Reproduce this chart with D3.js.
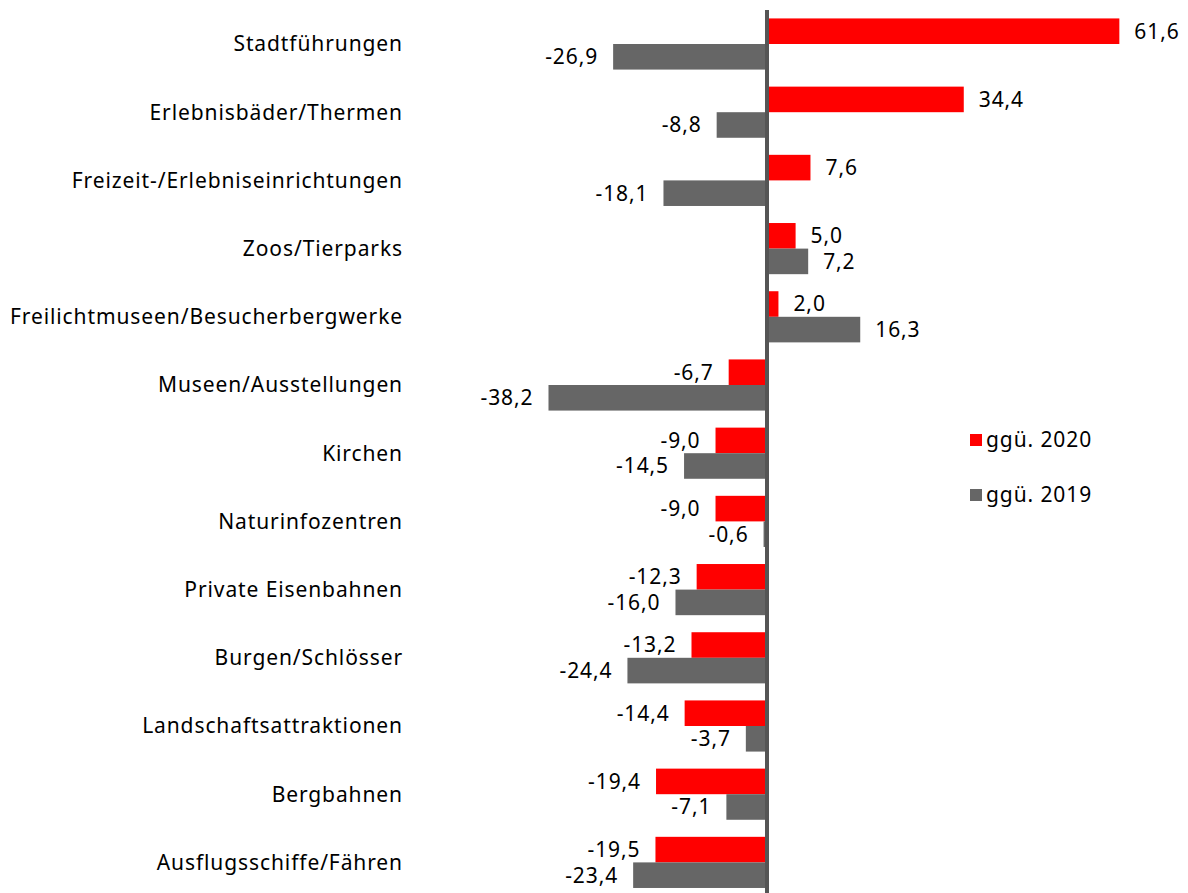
<!DOCTYPE html>
<html><head><meta charset="utf-8">
<script src="https://cdn.jsdelivr.net/npm/d3@7"></script>
<style>body{margin:0;background:#fff}svg{display:block}text{font-family:"Noto Sans",sans-serif;fill:#000}</style>
</head><body>
<svg id="c" width="1188" height="893"></svg>
<script>
const categories = ["Stadtführungen","Erlebnisbäder/Thermen","Freizeit-/Erlebniseinrichtungen","Zoos/Tierparks","Freilichtmuseen/Besucherbergwerke","Museen/Ausstellungen","Kirchen","Naturinfozentren","Private Eisenbahnen","Burgen/Schlösser","Landschaftsattraktionen","Bergbahnen","Ausflugsschiffe/Fähren"];
const vs2020 = [61.6,34.4,7.6,5.0,2.0,-6.7,-9.0,-9.0,-12.3,-13.2,-14.4,-19.4,-19.5];
const vs2019 = [-26.9,-8.8,-18.1,7.2,16.3,-38.2,-14.5,-0.6,-16.0,-24.4,-3.7,-7.1,-23.4];
const seriesNames = ["ggü. 2020","ggü. 2019"];
const colors = ["#ff0000","#666666"];

const svg = d3.select("#c");
const fmt = d3.formatLocale({decimal:",",thousands:".",grouping:[3],currency:["","€"],minus:"-"}).format(".1f");
const x = d3.scaleLinear().domain([-40,65]).range([538.2,1138.8]);
const y = d3.scaleBand().domain(categories).range([9.9,896.5]).paddingInner(0.25).paddingOuter(0.125);
const sub = d3.scaleBand().domain([0,1]).range([0,y.bandwidth()]);
const FS = "21px", LS = "0.9px";

const series = [vs2020, vs2019];
series.forEach((vals,si)=>{
  const g = svg.append("g");
  g.selectAll("rect").data(vals).join("rect")
    .attr("x",d=>x(Math.min(0,d)))
    .attr("width",d=>Math.abs(x(d)-x(0)))
    .attr("y",(d,i)=>y(categories[i])+sub(si))
    .attr("height",sub.bandwidth())
    .attr("fill",colors[si]);
  g.selectAll("text").data(vals).join("text")
    .attr("x",d=>d>=0? x(d)+15 : x(d)-15)
    .attr("y",(d,i)=>y(categories[i])+sub(si)+sub.bandwidth()/2)
    .attr("dy","0.35em")
    .attr("text-anchor",d=>d>=0?"start":"end")
    .style("font-size",FS).style("letter-spacing",LS)
    .text(d=>fmt(d));
});

// category labels
svg.append("g").selectAll("text").data(categories).join("text")
  .attr("x",403).attr("y",d=>y(d)+y.bandwidth()/2).attr("dy","0.35em")
  .attr("text-anchor","end").style("font-size",FS).style("letter-spacing",LS).text(d=>d);

// zero axis
svg.append("line").attr("x1",x(0)).attr("x2",x(0)).attr("y1",10).attr("y2",893)
  .attr("stroke","#555555").attr("stroke-width",4);

// legend
const leg = svg.append("g");
seriesNames.forEach((n,i)=>{
  const cy = 440 + i*55;
  leg.append("rect").attr("x",970).attr("y",cy-6).attr("width",12).attr("height",12).attr("fill",colors[i]);
  leg.append("text").attr("x",986).attr("y",cy).attr("dy","0.35em").style("font-size",FS).style("letter-spacing",LS).text(n);
});
</script>
</body></html>
